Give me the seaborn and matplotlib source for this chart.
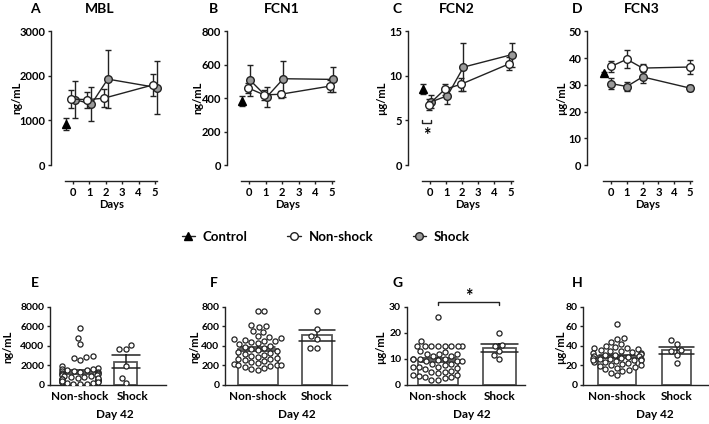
import numpy as np
import pandas as pd
import matplotlib
matplotlib.use("Agg")
import matplotlib.pyplot as plt
import seaborn as sns
from matplotlib.lines import Line2D
from matplotlib import font_manager

# ---------------- data ----------------
days = [0, 1, 2, 5]
day_ticks = [0, 1, 2, 3, 4, 5]
control_x = -0.45

mbl_ctrl, mbl_ctrl_sem = 920, 130
mbl_ns = [1480, 1470, 1500, 1800]
mbl_ns_sem = [200, 180, 200, 240]
mbl_sh = [1470, 1370, 1930, 1740]
mbl_sh_sem = [410, 390, 660, 590]

fcn1_ctrl, fcn1_ctrl_sem = 383, 28
fcn1_ns = [463, 420, 424, 473]
fcn1_ns_sem = [30, 30, 20, 35]
fcn1_sh = [507, 408, 517, 513]
fcn1_sh_sem = [92, 62, 108, 77]

fcn2_ctrl, fcn2_ctrl_sem = 8.5, 0.55
fcn2_ns = [6.78, 8.5, 9.07, 11.37]
fcn2_ns_sem = [0.6, 0.65, 0.7, 0.75]
fcn2_sh = [7.1, 7.78, 11.0, 12.4]
fcn2_sh_sem = [0.75, 0.9, 2.7, 1.35]

fcn3_ctrl, fcn3_ctrl_sem = 34.5, 0.5
fcn3_ns = [36.9, 39.6, 36.3, 36.7]
fcn3_ns_sem = [2.2, 3.4, 1.5, 2.7]
fcn3_sh = [30.5, 29.4, 33.0, 28.8]
fcn3_sh_sem = [1.9, 1.7, 2.2, 1.0]

groups = ["Non-shock", "Shock"]

mbl42_ns = [5800, 4800, 4200, 2950, 2850, 2800, 2550,
            1950, 1700, 1650, 1600, 1550, 1500, 1450, 1400, 1350, 1300,
            1250, 1200, 1150, 1100, 1050, 1000, 950, 900, 850, 800,
            700, 650, 600, 550, 500, 450, 400, 350, 300, 250,
            200, 150, 100, 100, 600, 700, 400, 300]
mbl42_sh = [4050, 3670, 3700, 1900, 750, 240]

fcn1_42_ns = [750, 750, 610, 600, 590, 550, 540, 500, 490, 480, 470, 460,
              450, 450, 440, 430, 420, 400, 390, 380, 370, 360, 350, 340,
              330, 320, 310, 300, 290, 280, 270, 260, 250, 240, 230, 220,
              210, 200, 200, 190, 180, 170, 160, 150, 200]
fcn1_42_sh = [750, 570, 500, 465, 380, 380]

fcn2_42_ns = [26, 17, 15, 15, 15, 15, 15, 15, 15, 15, 13, 12.5, 12, 12, 12,
              11, 11, 10, 10, 10, 10, 9.5, 9, 9, 8, 8, 7.5, 7, 7, 7, 6.5, 6,
              5.5, 5, 5, 4.5, 4, 4, 3.5, 3, 3, 2.5, 2, 2, 9]
fcn2_42_sh = [20, 15.3, 14.8, 13, 11.5, 10]

fcn3_42_ns = [62, 48, 47, 44, 42, 40, 39, 38, 38, 37, 36, 35, 35, 34, 33, 33,
              32, 31, 31, 30, 30, 29, 28, 28, 27, 27, 26, 25, 25, 24, 23, 23,
              22, 21, 20, 20, 19, 18, 17, 16, 15, 14, 12, 10, 25]
fcn3_42_sh = [46, 42, 36, 35, 31, 22]

# ---------------- style ----------------
sns.set_theme(style="ticks")


def pick_font():
    for fam in ["Lato", "Open Sans", "Noto Sans", "Liberation Sans"]:
        try:
            p = font_manager.findfont(font_manager.FontProperties(family=fam, weight="bold"),
                                      fallback_to_default=False)
            if "bold" in p.lower() or "black" in p.lower() or "heavy" in p.lower():
                return fam
        except Exception:
            pass
    return "DejaVu Sans"


FONT = pick_font()
plt.rcParams["font.family"] = [FONT, "DejaVu Sans"]
plt.rcParams["font.weight"] = "bold"
plt.rcParams["axes.labelweight"] = "bold"
plt.rcParams["axes.linewidth"] = 1.0
plt.rcParams["axes.edgecolor"] = "#222222"
plt.rcParams["xtick.color"] = "#222222"
plt.rcParams["ytick.color"] = "#222222"
plt.rcParams["xtick.labelcolor"] = "black"
plt.rcParams["ytick.labelcolor"] = "black"

W, H = 709, 424
fig = plt.figure(figsize=(W / 100, H / 100), dpi=100)
INK = "#222222"
TXT = "black"
GREY = "#9a9a9a"


def px_rect(left, right, top, bottom):
    return [left / W, 1 - bottom / H, (right - left) / W, (bottom - top) / H]


def T(x, y, s, size=8, ha="center", va="center", rot=0):
    fig.text(x / W, 1 - y / H, s, ha=ha, va=va, rotation=rot, fontsize=size,
             fontweight="bold", color=TXT)


def pt(px):
    return px * 72 / 100


def top_panel(rect, yoff, ylim, yticks, ctrl, ctrl_sem, ns, ns_sem, sh, sh_sem, off):
    ax = fig.add_axes(rect)
    ax.set_xlim(-0.5, 5.15)
    ax.set_ylim(*ylim)
    ax.set_yticks(yticks)
    ax.set_xticks(day_ticks)
    for s in ["top", "right"]:
        ax.spines[s].set_visible(False)
    ax.spines["left"].set_position(("outward", pt(yoff)))
    ax.spines["bottom"].set_position(("outward", pt(16)))
    ax.tick_params(direction="out", length=2.5, width=1, labelsize=8, pad=1.5)
    for lab in ax.get_xticklabels() + ax.get_yticklabels():
        lab.set_fontweight("bold")
    xs_ns = np.array(days) - off
    xs_sh = np.array(days) + off
    ek = dict(fmt="none", ecolor=INK, elinewidth=1, capsize=2.3, capthick=1, clip_on=False)
    ax.errorbar([control_x], [ctrl], yerr=[ctrl_sem], zorder=2, **ek)
    ax.plot([control_x], [ctrl], marker="^", color="black", ms=5.5, ls="none",
            zorder=4, clip_on=False)
    ax.errorbar(xs_sh, sh, yerr=sh_sem, zorder=2, **ek)
    ax.errorbar(xs_ns, ns, yerr=ns_sem, zorder=2, **ek)
    sns.lineplot(x=xs_sh, y=sh, ax=ax, color=INK, lw=1, marker="o",
                 markerfacecolor=GREY, markeredgecolor=INK, markeredgewidth=1,
                 markersize=5.5, zorder=3, clip_on=False)
    sns.lineplot(x=xs_ns, y=ns, ax=ax, color=INK, lw=1, marker="o",
                 markerfacecolor="white", markeredgecolor=INK, markeredgewidth=1,
                 markersize=5.5, zorder=3, clip_on=False)
    ax.set_xlabel("")
    ax.set_ylabel("")
    return ax


PPD = [16.4, 16.5, 16.1, 15.8]
X0 = [73, 249, 430, 611]
SPX = [51, 227, 408, 587]
tops = []
for i in range(4):
    left = X0[i] - 0.5 * PPD[i]
    right = X0[i] + 5.15 * PPD[i]
    tops.append((left, right))

axA = top_panel(px_rect(*tops[0], 31.5, 165), tops[0][0] - SPX[0], (0, 3000),
                [0, 1000, 2000, 3000], mbl_ctrl, mbl_ctrl_sem, mbl_ns, mbl_ns_sem,
                mbl_sh, mbl_sh_sem, 0.12)
axB = top_panel(px_rect(*tops[1], 31.5, 165), tops[1][0] - SPX[1], (0, 800),
                [0, 200, 400, 600, 800], fcn1_ctrl, fcn1_ctrl_sem, fcn1_ns, fcn1_ns_sem,
                fcn1_sh, fcn1_sh_sem, 0.08)
axC = top_panel(px_rect(*tops[2], 31.5, 165), tops[2][0] - SPX[2], (0, 15),
                [0, 5, 10, 15], fcn2_ctrl, fcn2_ctrl_sem, fcn2_ns, fcn2_ns_sem,
                fcn2_sh, fcn2_sh_sem, 0.08)
axD = top_panel(px_rect(*tops[3], 31.5, 165), tops[3][0] - SPX[3], (0, 50),
                [0, 10, 20, 30, 40, 50], fcn3_ctrl, fcn3_ctrl_sem, fcn3_ns, fcn3_ns_sem,
                fcn3_sh, fcn3_sh_sem, 0.0)

# significance in C
axC.plot([-0.47, -0.47, 0.05, 0.05], [5.1, 4.7, 4.7, 5.1], color=INK, lw=1, clip_on=False)
axC.text(-0.2, 3.3, "*", ha="center", va="center", fontsize=13, fontweight="bold", color=TXT)


def bottom_panel(rect, xlim, ylim, yticks, ns_vals, sh_vals, w_ns, w_sh, tickpos=None):
    df = pd.DataFrame({"group": ["Non-shock"] * len(ns_vals) + ["Shock"] * len(sh_vals),
                       "value": list(ns_vals) + list(sh_vals)})
    ax = fig.add_axes(rect)
    for g, w in zip(groups, [w_ns, w_sh]):
        sns.barplot(data=df[df.group == g], x="group", y="value", order=groups,
                    errorbar="se", width=w, color="white", edgecolor="#555555",
                    linewidth=1.3, capsize=0.6, ax=ax,
                    err_kws={"color": INK, "linewidth": 1.1})
    sns.swarmplot(data=df, x="group", y="value", order=groups, color="white",
                  edgecolor=INK, linewidth=0.9, size=3.7, ax=ax, zorder=4,
                  warn_thresh=1)
    ax.set_xlim(*xlim)
    ax.set_ylim(*ylim)
    ax.set_yticks(yticks)
    if tickpos is not None:
        ax.set_xticks(tickpos)
        ax.set_xticklabels(groups)
    for s in ["top", "right"]:
        ax.spines[s].set_visible(False)
    ax.tick_params(axis="y", direction="out", length=2.5, width=1, labelsize=7.5, pad=1.5)
    ax.tick_params(axis="x", length=0, labelsize=8.5, pad=4)
    for lab in ax.get_xticklabels() + ax.get_yticklabels():
        lab.set_fontweight("bold")
    ax.set_xlabel("")
    ax.set_ylabel("")
    return ax


axE = bottom_panel(px_rect(50, 166, 306.5, 385), (-0.66, 1.88), (0, 8000),
                   [0, 2000, 4000, 6000, 8000], mbl42_ns, mbl42_sh, 0.72, 0.5,
                   tickpos=[0.0, 1.15])
axF = bottom_panel(px_rect(225, 346.7, 306.5, 385), (-0.55, 1.5), (0, 800),
                   [0, 200, 400, 600, 800], fcn1_42_ns, fcn1_42_sh, 0.67, 0.5)
axG = bottom_panel(px_rect(406.7, 525, 306.5, 385), (-0.51, 1.42), (0, 30),
                   [0, 10, 20, 30], fcn2_42_ns, fcn2_42_sh, 0.64, 0.54)
axH = bottom_panel(px_rect(583.3, 707.5, 306.5, 385), (-0.57, 1.52), (0, 80),
                   [0, 20, 40, 60, 80], fcn3_42_ns, fcn3_42_sh, 0.65, 0.49)

# significance in G
axG.plot([0, 0, 1, 1], [30.4, 31.6, 31.6, 30.4], color=INK, lw=1, clip_on=False)
axG.text(0.5, 34.0, "*", ha="center", va="center", fontsize=13, fontweight="bold",
         color=TXT, clip_on=False)

# ---------------- texts ----------------
for (lx, tx, letter, title) in [(35, 100, "A", "MBL"), (214, 282, "B", "FCN1"),
                                (397, 457, "C", "FCN2"), (577, 642, "D", "FCN3")]:
    T(lx, 9, letter, size=10)
    T(tx, 9, title, size=10)
for (lx, letter) in [(35, "E"), (214, "F"), (398, "G"), (577, "H")]:
    T(lx, 283, letter, size=10)

for (x, s) in [(17, "ng/mL"), (198, "ng/mL"), (382, "µg/mL"), (562, "µg/mL")]:
    T(x, 98, s, size=8, rot=90)
for (x, s) in [(8, "ng/mL"), (195, "ng/mL"), (381, "µg/mL"), (561, "µg/mL")]:
    T(x, 347, s, size=8, rot=90)

for (l, r) in tops:
    T((l + r) / 2, 204, "Days", size=8)
for x in [115, 297, 472, 655]:
    T(x, 415, "Day 42", size=8.5)

# legend
handles = [
    Line2D([0], [0], color=INK, lw=1, marker="^", markerfacecolor="black",
           markeredgecolor="black", markersize=6),
    Line2D([0], [0], color=INK, lw=1, marker="o", markerfacecolor="white",
           markeredgecolor=INK, markersize=5.5),
    Line2D([0], [0], color=INK, lw=1, marker="o", markerfacecolor=GREY,
           markeredgecolor=INK, markersize=5.5),
]
leg = fig.legend(handles, ["Control", "Non-shock", "Shock"], loc="center",
                 bbox_to_anchor=(326 / W, 1 - 237 / H), ncol=3, frameon=False,
                 handlelength=1.0, handletextpad=0.6, columnspacing=3.0,
                 prop={"size": 9.5, "weight": "bold"})
for t in leg.get_texts():
    t.set_color(TXT)

fig.savefig("out.png", dpi=100)
